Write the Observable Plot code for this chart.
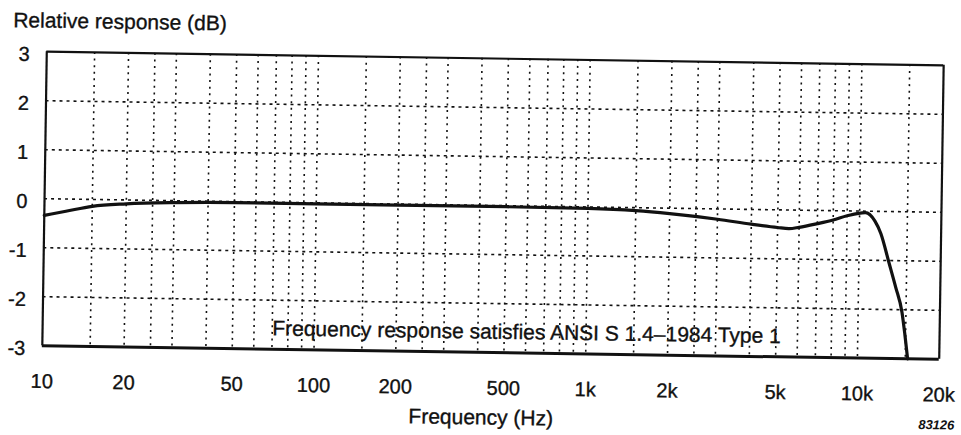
<!DOCTYPE html>
<html>
<head>
<meta charset="utf-8">
<script src="https://cdn.jsdelivr.net/npm/d3@7"></script>
<script src="https://cdn.jsdelivr.net/npm/@observablehq/plot@0.6"></script>
<style>
  html, body { margin: 0; padding: 0; background: #fff; overflow: hidden; }
  #chart svg { display: block; transform: rotate(0.87deg); transform-origin: 492px 205px; }
</style>
</head>
<body>
<div id="chart"></div>
<script>
// ---- data ----
const freqHz = [10, 12, 15, 20, 30, 50, 100, 200, 500, 1000, 1500, 2000, 3000, 4000, 5000, 5500, 6000, 7000, 8000, 9000, 10500, 11400, 12000, 12900, 13700, 14500, 14900, 15300];
const responseDb = [-0.34, -0.25, -0.14, -0.08, -0.04, -0.02, -0.02, -0.02, -0.02, -0.03, -0.06, -0.11, -0.21, -0.30, -0.36, -0.38, -0.35, -0.27, -0.19, -0.1, -0.03, -0.2, -0.45, -1.04, -1.54, -2.05, -2.5, -3.0];

const gridFreqs = [15, 20, 25, 30, 40, 50, 60, 70, 80, 90, 100,
                   150, 200, 250, 300, 400, 500, 600, 700, 800, 900, 1000,
                   1500, 2000, 2500, 3000, 4000, 5000, 6000, 7000, 8000, 9000, 10000,
                   15000];
const gridDb = [2, 1, 0, -1, -2];

const xTicks = [10, 20, 50, 100, 200, 500, 1000, 2000, 5000, 10000, 20000];
const xTickLabels = ["10", "20", "50", "100", "200", "500", "1k", "2k", "5k", "10k", "20k"];
const yTicks = [3, 2, 1, 0, -1, -2, -3];
const yTickLabels = ["3", "2", "1", "0", "-1", "-2", "-3"];

const xDomain = [10, 20000];
const yDomain = [-3, 3];

const yAxisTitle = "Relative response (dB)";
const xAxisTitle = "Frequency (Hz)";
const noteText = "Frequency response satisfies ANSI S 1.4\u20131984 Type 1";
const noteFreq = 70;
const noteDb = -2.58;
const figureId = "83126";

// ---- build ----
const curve = freqHz.map((f, i) => ({f, db: responseDb[i]}));
const ink = "#111";
const font = "'Liberation Sans', Arial, Helvetica, sans-serif";
const heavy = {fill: ink, stroke: ink, strokeWidth: 0.35};

const chart = Plot.plot({
  width: 961,
  height: 435,
  marginLeft: 44,
  marginRight: 20,
  marginTop: 58,
  marginBottom: 83,
  style: {fontFamily: font, fontSize: "20px", color: ink, background: "#fff", overflow: "visible"},
  x: {type: "log", domain: xDomain, axis: null},
  y: {type: "linear", domain: yDomain, axis: null},
  marks: [
    Plot.ruleX(gridFreqs, {stroke: ink, strokeWidth: 1.6, strokeDasharray: "2 4.6"}),
    Plot.ruleY(gridDb, {stroke: ink, strokeWidth: 1.6, strokeDasharray: "3 4"}),
    Plot.ruleY([yDomain[1]], {stroke: ink, strokeWidth: 2.2}),
    Plot.ruleY([yDomain[0]], {stroke: ink, strokeWidth: 3}),
    Plot.ruleX(xDomain, {stroke: ink, strokeWidth: 2.2}),
    Plot.line(curve, {x: "f", y: "db", stroke: ink, strokeWidth: 3.2, curve: "monotone-x"}),
    // x tick labels
    Plot.text(xTicks, {x: d => d, frameAnchor: "bottom", lineAnchor: "top", dy: 28,
      text: (d, i) => xTickLabels[i], fontSize: 20, ...heavy}),
    // y tick labels
    Plot.text(yTicks, {y: d => d, frameAnchor: "left", textAnchor: "end", dx: -17, dy: 3,
      text: (d, i) => yTickLabels[i], fontSize: 20, ...heavy}),
    Plot.text([noteText], {x: () => noteFreq, y: () => noteDb, text: d => d, textAnchor: "start", fontSize: 21, ...heavy}),
    Plot.text([yAxisTitle], {frameAnchor: "top-left", lineAnchor: "top", text: d => d, textAnchor: "start", dx: -34, dy: -39, fontSize: 21, ...heavy}),
    Plot.text([xAxisTitle], {frameAnchor: "bottom", lineAnchor: "bottom", text: d => d, dx: -9, dy: 72, fontSize: 21, ...heavy}),
    Plot.text([figureId], {frameAnchor: "bottom-right", lineAnchor: "bottom", text: d => d, textAnchor: "start", dx: -20, dy: 70, fontSize: 13, fontWeight: "bold", fontStyle: "italic", fill: ink})
  ]
});

document.getElementById("chart").appendChild(chart);
</script>
</body>
</html>
